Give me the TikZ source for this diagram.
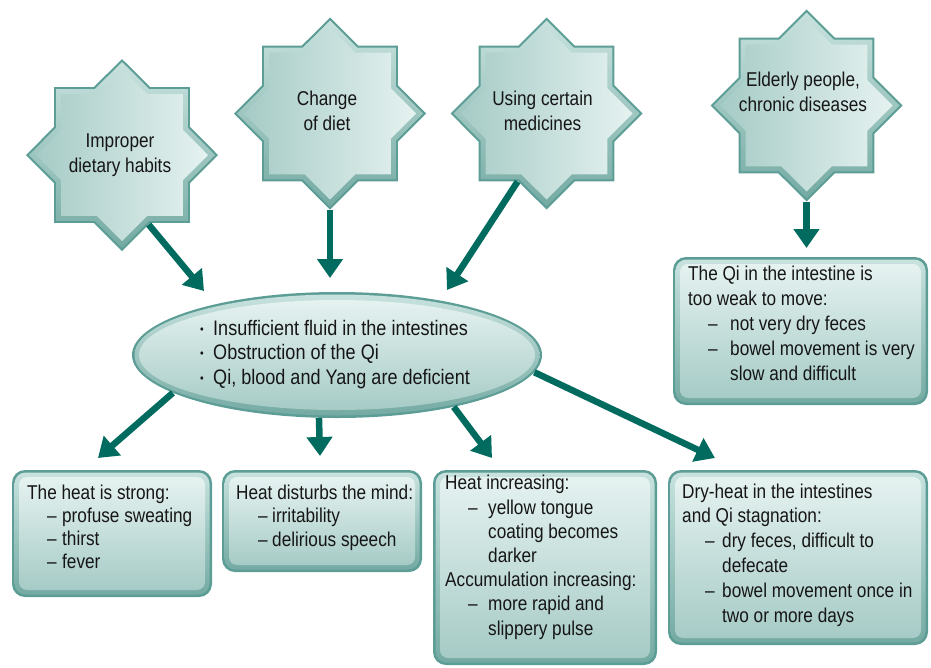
\documentclass[tikz,border=0pt]{standalone}
\usepackage{fontspec}
\setmainfont{Liberation Sans}[FakeStretch=0.86]
\usetikzlibrary{shapes.geometric,arrows.meta}
\definecolor{bordc}{RGB}{92,157,149}
\definecolor{bevtop}{RGB}{200,226,222}
\definecolor{bevbot}{RGB}{116,170,163}
\definecolor{filltop}{RGB}{229,242,240}
\definecolor{fillbot}{RGB}{166,203,198}
\definecolor{arrc}{RGB}{0,107,94}
\definecolor{txtc}{RGB}{22,22,22}
\newcommand\tcmpanel[5]{%
  \node[boxout, minimum width={(#4)-(#2)}, minimum height={(#5)-(#3)}] (#1) at ({((#2)+(#4))/2},{((#3)+(#5))/2}) {};
  \node[boxbev, minimum width={(#4)-(#2)-5}, minimum height={(#5)-(#3)-5}] (#1b) at (#1.center) {};
  \node[boxin, minimum width={(#4)-(#2)-14}, minimum height={(#5)-(#3)-14}] (#1c) at (#1.center) {};
}
\newcommand\tcmstar[3]{%
  \node[starout] (#1) at (#2,#3) {};
  \node[starbev] (#1b) at (#1.center) {};
  \node[starin] (#1c) at (#1.center) {};
}
\newcommand\ditem[2]{\hspace*{#1}\makebox[#2][l]{–}}
\newcommand\bul{\makebox[13pt][l]{\raisebox{1.8pt}{\fontsize{12}{12}\selectfont •}}}
\begin{document}
\begin{tikzpicture}[x=1pt,y=-1pt,
  boxout/.style={rectangle, rounded corners=13pt, fill=bordc, inner sep=0pt, draw=none},
  boxbev/.style={rectangle, rounded corners=11pt, top color=bevtop, bottom color=bevbot, inner sep=0pt, draw=none},
  boxin/.style={rectangle, rounded corners=8pt, top color=filltop, bottom color=fillbot, inner sep=0pt, draw=none},
  starout/.style={star, star points=8, star point ratio=1.3066, minimum size=192pt, inner sep=0pt, fill=bordc, draw=none},
  starbev/.style={star, star points=8, star point ratio=1.3066, minimum size=186pt, inner sep=0pt, top color=bevtop, bottom color=bevbot, draw=none},
  starin/.style={star, star points=8, star point ratio=1.3066, minimum size=172pt, inner sep=0pt, left color=fillbot, right color=filltop, draw=none},
  eout/.style={ellipse, fill=bordc, minimum width=410pt, minimum height=126pt, inner sep=0pt, draw=none},
  ebev/.style={ellipse, top color=bevtop, bottom color=bevbot, minimum width=405pt, minimum height=121pt, inner sep=0pt, draw=none},
  ein/.style={ellipse, top color=filltop, bottom color=fillbot, minimum width=396pt, minimum height=110pt, inner sep=0pt, draw=none},
  txt/.style={inner sep=0pt, font=\fontsize{20}{24}\selectfont, align=left, anchor=base west, text=txtc},
  stxt/.style={inner sep=0pt, font=\fontsize{20}{25}\selectfont, align=center, anchor=base, text=txtc},
  arr/.style={draw=arrc, line width=6.5pt, -{Triangle[length=19pt,width=25pt]}}
]
\useasboundingbox (0,0) rectangle (931,667);

% stars
\tcmstar{s1}{122}{155}
\tcmstar{s2}{330}{113.5}
\tcmstar{s3}{546.5}{113.5}
\tcmstar{s4}{806.5}{105.5}
\node[stxt] (s1t) at (120,172) {Improper\\dietary habits};
\node[stxt] (s2t) at (327,130) {Change\\of diet};
\node[stxt] (s3t) at (542.5,130) {Using certain\\medicines};
\node[stxt] (s4t) at (803,111) {Elderly people,\\chronic diseases};

% ellipse
\node[eout] (e) at (337,355) {};
\node[ebev] (eb) at (e.center) {};
\node[ein] (ec) at (e.center) {};
\node[txt, font=\fontsize{21}{24.5}\selectfont] (et) at (200,384) {\bul Insufficient fluid in the intestines\\\bul Obstruction of the Qi\\\bul Qi, blood and Yang are deficient};

% boxes
\tcmpanel{q}{673}{257}{928}{405}
\tcmpanel{b1}{12}{470}{212}{597}
\tcmpanel{b2}{222}{470}{422}{572}
\tcmpanel{b3}{433}{470}{657}{665}
\tcmpanel{b4}{668}{470}{928}{645}

\node[txt, font=\fontsize{20}{25}\selectfont] (qt) at (688,380) {The Qi in the intestine is\\too weak to move:\\\ditem{20pt}{22pt}not very dry feces\\\ditem{20pt}{22pt}bowel movement is very\\\hspace*{42pt}slow and difficult};
\node[txt, font=\fontsize{20}{23}\selectfont] (b1t) at (27,568) {The heat is strong:\\\ditem{20pt}{15pt}profuse sweating\\\ditem{20pt}{15pt}thirst\\\ditem{20pt}{15pt}fever};
\node[txt, font=\fontsize{20}{23.5}\selectfont] (b2t) at (236,546) {Heat disturbs the mind:\\\ditem{22pt}{14pt}irritability\\\ditem{22pt}{14pt}delirious speech};
\node[txt, font=\fontsize{20}{24.2}\selectfont] (b3t) at (445,635) {Heat increasing:\\\ditem{23pt}{20pt}yellow tongue\\\hspace*{43pt}coating becomes\\\hspace*{43pt}darker\\Accumulation increasing:\\\ditem{23pt}{20pt}more rapid and\\\hspace*{43pt}slippery pulse};
\node[txt, font=\fontsize{20}{24.8}\selectfont] (b4t) at (682,622) {Dry-heat in the intestines\\and Qi stagnation:\\\ditem{23pt}{17pt}dry feces, difficult to\\\hspace*{40pt}defecate\\\ditem{23pt}{17pt}bowel movement once in\\\hspace*{40pt}two or more days};

% arrows
\coordinate (t1) at (204,291);
\coordinate (t2) at (330,278);
\coordinate (t3) at (447,290);
\coordinate (t4) at (806.5,248);
\draw[arr] (s1.-69) -- (t1);
\draw[arr] (s2.south) -- (t2);
\draw[arr] (s3.247.7) -- (t3);
\draw[arr] (s4.south) -- (t4);
\coordinate (u1) at (98,458);
\coordinate (u2) at (320,456);
\coordinate (u3) at (492,458);
\coordinate (u4) at (715,458);
\draw[arr] (e.193.4) -- (u1);
\draw[arr] (e.254.9) -- (u2);
\draw[arr] (e.-24.4) -- (u3);
\draw[arr] (e.-5.4) -- (u4);
\end{tikzpicture}
\end{document}
